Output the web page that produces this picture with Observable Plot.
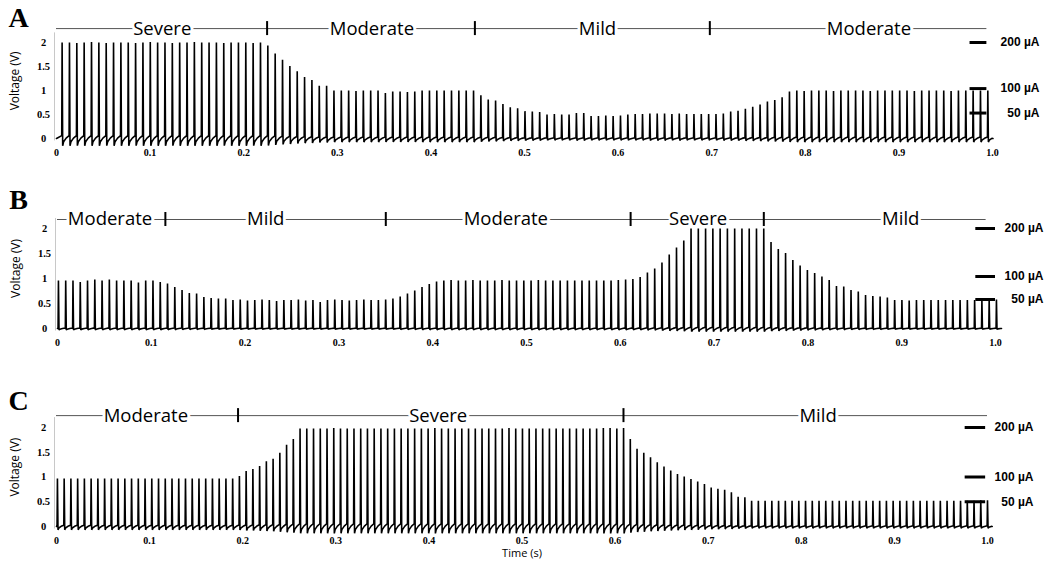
<!DOCTYPE html>
<html><head><meta charset="utf-8">
<script src="https://cdn.jsdelivr.net/npm/d3@7"></script>
<script src="https://cdn.jsdelivr.net/npm/@observablehq/plot@0.6"></script>
<style>
body{margin:0;background:#fff}
#root{position:relative;width:1050px;height:574px;overflow:hidden;background:#fff}
#root svg{position:absolute;left:0;overflow:visible}
</style></head><body><div id="root"></div>
<script>
// ---------- DATA ----------
// Spike peak amplitudes (V), in time order, one value per spike
const ampA = [2.0,2.0,1.99,2.0,2.01,2.0,1.99,2.0,2.0,2.0,1.99,2.0,2.01,2.0,2.0,1.99,2.0,2.0,2.01,2.0,2.0,2.0,1.99,2.0,2.0,2.0,1.99,2.0,
  1.94,1.77,1.64,1.51,1.40,1.28,1.22,1.10,1.10,
  1.0,1.0,1.0,0.99,1.0,1.0,1.0,0.95,0.98,0.98,0.97,0.98,1.0,1.0,1.0,1.0,1.0,1.0,1.0,1.0,
  0.90,0.81,0.79,0.72,0.65,0.63,0.57,0.56,0.55,
  0.50,0.51,0.50,0.50,0.53,0.53,0.47,0.47,0.48,0.47,0.48,0.50,0.51,0.51,0.52,0.52,0.52,0.51,0.52,0.51,0.51,0.51,0.51,0.51,0.52,
  0.56,0.58,0.62,0.66,0.71,0.77,0.80,0.86,0.98,
  1.0,0.99,1.0,1.0,1.0,0.99,1.0,1.0,1.0,1.0,0.99,1.0,1.0,1.0,1.0,1.0,0.99,1.0,1.0,1.0,1.0,0.99,1.0,1.0,1.0,1.0,1.0];
const ampB = [0.96,0.96,0.96,0.93,0.96,0.98,0.96,0.98,0.96,0.96,0.96,0.92,0.96,0.96,0.93,
  0.90,0.83,0.77,0.71,0.70,0.63,0.61,0.60,0.60,0.57,
  0.58,0.56,0.57,0.58,0.57,0.55,0.57,0.57,0.58,0.56,0.57,0.53,0.57,0.58,0.57,0.56,0.57,0.58,0.57,0.57,0.58,
  0.60,0.64,0.70,0.76,0.83,0.89,0.94,
  0.96,0.97,0.96,0.96,0.97,0.96,0.96,0.96,0.97,0.96,0.96,0.96,0.96,0.97,0.96,0.96,0.96,0.96,0.96,0.96,0.96,0.96,0.96,0.96,0.97,0.98,0.99,
  1.03,1.12,1.20,1.32,1.48,1.62,1.76,
  2.0,2.0,2.0,2.0,2.0,2.0,2.0,2.0,2.0,2.0,2.0,
  1.73,1.59,1.51,1.37,1.26,1.17,1.11,1.04,0.97,0.85,0.84,0.77,0.74,0.67,0.65,0.64,0.62,
  0.57,0.57,0.56,0.57,0.57,0.57,0.57,0.57,0.57,0.57,0.57,0.57,0.57,0.57,0.58];
const ampC = [0.97,0.97,0.97,0.97,0.97,0.97,0.97,0.97,0.97,0.97,0.97,0.97,0.97,0.97,0.97,0.97,0.97,0.97,0.97,0.97,0.97,0.97,0.97,0.97,0.97,0.97,0.97,
  1.02,1.12,1.16,1.22,1.32,1.37,1.49,1.65,1.77,
  1.98,1.98,1.98,1.98,1.98,1.99,1.98,1.98,1.98,1.98,1.98,1.98,1.98,1.98,1.98,1.98,1.98,1.98,1.98,1.98,1.99,1.98,1.98,1.98,1.98,1.98,1.98,1.98,1.98,1.98,1.98,1.99,1.98,1.98,1.98,1.98,1.98,1.98,1.98,1.98,1.98,1.98,1.98,1.98,1.98,1.99,1.99,1.98,1.99,
  1.77,1.57,1.49,1.40,1.30,1.21,1.13,1.06,1.01,0.96,0.91,0.86,0.79,0.76,0.74,0.69,0.60,0.59,
  0.52,0.52,0.52,0.52,0.52,0.52,0.52,0.52,0.52,0.52,0.52,0.52,0.52,0.52,0.52,0.52,0.52,0.52,0.52,0.52,0.52,0.52,0.52,0.52,0.52,0.52,0.52,0.52,0.52,0.52,0.52,0.52,0.52,0.52,0.53,0.53];
// first and last spike times (s)
const spanA = [0.006, 0.995];
const spanB = [0.001, 1.001];
const spanC = [0.001, 1.0];

// severity phases: boundaries (s) and labels with their positions (s)
const boundsA = [0.225, 0.447, 0.698];
const phasesA = [{x:0.113, label:"Severe"}, {x:0.337, label:"Moderate"}, {x:0.578, label:"Mild"}, {x:0.868, label:"Moderate"}];
const boundsB = [0.115, 0.35, 0.611, 0.753];
const phasesB = [{x:0.056, label:"Moderate"}, {x:0.222, label:"Mild"}, {x:0.478, label:"Moderate"}, {x:0.683, label:"Severe"}, {x:0.899, label:"Mild"}];
const boundsC = [0.195, 0.609];
const phasesC = [{x:0.096, label:"Moderate"}, {x:0.41, label:"Severe"}, {x:0.818, label:"Mild"}];

// current scale bars: label and voltage level
const barsA = [{label:"200 µA", v:2.0}, {label:"100 µA", v:1.04}, {label:"50 µA", v:0.53}];
const barsB = [{label:"200 µA", v:2.0}, {label:"100 µA", v:1.04}, {label:"50 µA", v:0.58}];
const barsC = [{label:"200 µA", v:2.0}, {label:"100 µA", v:1.0}, {label:"50 µA", v:0.5}];

// tick labels
const yTicks = [0, 0.5, 1, 1.5, 2];
const xTicks = [0, 0.1, 0.2, 0.3, 0.4, 0.5, 0.6, 0.7, 0.8, 0.9, 1.0];
const xTickLabels = ["0","0.1","0.2","0.3","0.4","0.5","0.6","0.7","0.8","0.9","1.0"];

// ---------- DRAWING ----------
const SERIF = "'Liberation Serif','Times New Roman',serif";
const SANS = "'Open Sans','Noto Sans',sans-serif";

function wave(amps, span, k) {
  const n = amps.length, P = (span[1] - span[0]) / (n - 1);
  const pts = [{t: 0, v: 0}];
  amps.forEach((a, i) => {
    const t = span[0] + i * P, d = k * a;
    pts.push({t: t - 0.0004, v: 0.4 * d});
    pts.push({t: t, v: a});
    pts.push({t: t + 0.0006, v: -d});
    pts.push({t: t + 0.2 * P, v: -0.45 * d});
    pts.push({t: t + 0.55 * P, v: 0.05 * d});
  });
  pts.push({t: span[1] + 0.7 * P, v: 0});
  return pts;
}

const panels = [
  {letter:"A", amps:ampA, span:spanA, k:0.075, bounds:boundsA, phases:phasesA, bars:barsA,
   top:0, height:170, mt:42, mb:32, ml:56, mr:58, track:2.29, trackEnd:0.994, barX:[0.976,0.994], barDx:47, letterY:18, time:false},
  {letter:"B", amps:ampB, span:spanB, k:0.03, bounds:boundsB, phases:phasesB, bars:barsB,
   top:180, height:180, mt:48, mb:32, ml:57, mr:55, track:2.18, trackEnd:0.99, barX:[0.979,1.0], barDx:48, letterY:20, time:false},
  {letter:"C", amps:ampC, span:spanC, k:0.07, bounds:boundsC, phases:phasesC, bars:barsC,
   top:378, height:196, mt:49, mb:48, ml:56, mr:63, track:2.24, trackEnd:1.0, barX:[0.976,0.998], barDx:46, letterY:23, time:true}
];

const root = document.getElementById("root");
for (const p of panels) {
  const pxPerV = (p.height - p.mt - p.mb) / 2;
  const half = 7 / pxPerV;
  const marks = [
    Plot.ruleX([0], {y1: -0.05, y2: 2.2, stroke: "#c8c8c8", strokeWidth: 1, dx: -2}),
    Plot.line(wave(p.amps, p.span, p.k), {x: "t", y: "v", stroke: "#000", strokeWidth: 1.6, strokeLinejoin: "miter"}),
    // severity track
    Plot.ruleY([p.track], {x1: 0, x2: p.trackEnd, stroke: "#555", strokeWidth: 1}),
    Plot.ruleX(p.bounds, {x: d => d, y1: p.track - half, y2: p.track + half, stroke: "#000", strokeWidth: 2}),
    Plot.text(p.phases, {x: "x", y: p.track, text: "label", fontFamily: SANS, fontSize: 18.5, fill: "#000",
      stroke: "#fff", strokeWidth: 6, paintOrder: "stroke"}),
    // scale bars
    Plot.ruleY(p.bars, {y: "v", x1: p.barX[0], x2: p.barX[1], stroke: "#000", strokeWidth: 3}),
    Plot.text(p.bars, {y: "v", text: "label", frameAnchor: "right", dx: p.barDx, textAnchor: "end",
      fontFamily: "'Liberation Sans',Arial,sans-serif", fontWeight: "bold", fontSize: 12, fill: "#000"}),
    // axes labels
    Plot.text(yTicks, {y: d => d, text: d => String(d), frameAnchor: "left", dx: -13, textAnchor: "middle",
      fontFamily: SERIF, fontWeight: "bold", fontSize: 10.5, fill: "#000"}),
    Plot.text(xTicks, {x: d => d, text: (d, i) => xTickLabels[i], frameAnchor: "bottom", dy: 17,
      fontFamily: SERIF, fontWeight: "bold", fontSize: 10, fill: "#000"}),
    Plot.text(["Voltage (V)"], {y: 1.2, frameAnchor: "left", dx: -41, rotate: -90, textAnchor: "middle",
      fontFamily: SANS, fontSize: 12, fill: "#000"}),
    Plot.text([p.letter], {frameAnchor: "top-left", dx: 18 - p.ml, dy: p.letterY - p.mt, textAnchor: "middle", lineAnchor: "middle",
      fontFamily: SERIF, fontWeight: "bold", fontSize: 28, fill: "#000"})
  ];
  if (p.time) marks.push(Plot.text(["Time (s)"], {x: 0.5, frameAnchor: "bottom", dy: 30, fontFamily: SANS, fontSize: 11, fill: "#000"}));
  const svg = Plot.plot({
    width: 1050, height: p.height,
    marginTop: p.mt, marginBottom: p.mb, marginLeft: p.ml, marginRight: p.mr,
    x: {domain: [0, 1], axis: null},
    y: {domain: [0, 2], axis: null},
    style: {background: "transparent", overflow: "visible"},
    marks
  });
  svg.style.top = p.top + "px";
  root.appendChild(svg);
}
</script>
</body></html>
